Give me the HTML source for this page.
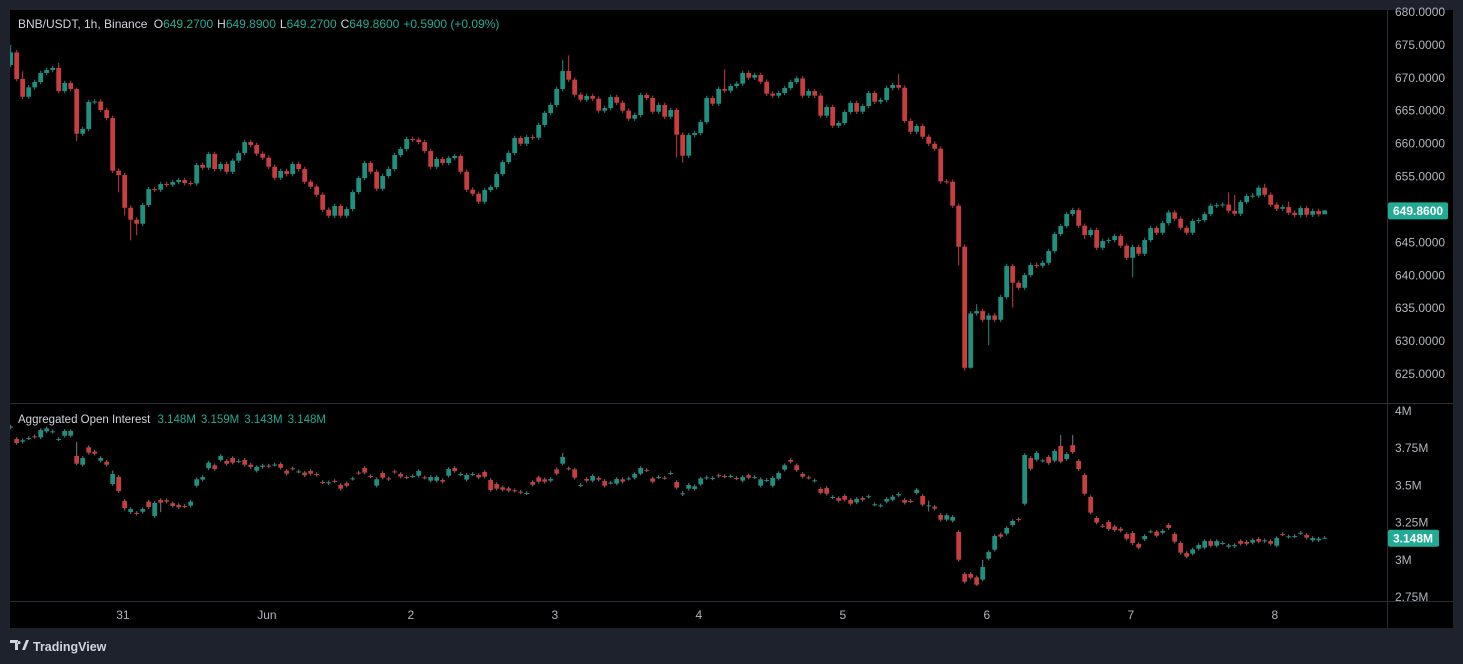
<!DOCTYPE html>
<html><head><meta charset="utf-8">
<style>
html,body{margin:0;padding:0;background:#1e222d;width:1463px;height:664px;overflow:hidden;font-family:"Liberation Sans",sans-serif}
svg{display:block}
</style></head>
<body>
<svg id="chart" width="1463" height="664" xmlns="http://www.w3.org/2000/svg">
<rect x="0" y="0" width="1463" height="664" fill="#1e222d"/>
<rect x="10" y="10" width="1443" height="618" fill="#000000"/>
<line x1="1387.5" y1="10" x2="1387.5" y2="628" stroke="#2a2e39" stroke-width="1"/>
<line x1="10" y1="403.5" x2="1453" y2="403.5" stroke="#2a2e39" stroke-width="1"/>
<line x1="10" y1="601.5" x2="1453" y2="601.5" stroke="#2a2e39" stroke-width="1"/>
<g id="priceMarks"></g>
<g id="oiMarks"></g>
<g id="axes"></g>
<text x="18" y="28" font-size="12" fill="#d1d4dc">BNB/USDT, 1h, Binance <tspan dx="3">O</tspan><tspan fill="#22ab94">649.2700</tspan><tspan dx="4">H</tspan><tspan fill="#22ab94">649.8900</tspan><tspan dx="4">L</tspan><tspan fill="#22ab94">649.2700</tspan><tspan dx="4">C</tspan><tspan fill="#22ab94">649.8600</tspan><tspan dx="4" fill="#22ab94">+0.5900 (+0.09%)</tspan></text>
<text x="18" y="423" font-size="11.5" fill="#d1d4dc">Aggregated Open Interest <tspan dx="4" fill="#22ab94">3.148M</tspan><tspan dx="5" fill="#22ab94">3.159M</tspan><tspan dx="5" fill="#22ab94">3.143M</tspan><tspan dx="5" fill="#22ab94">3.148M</tspan></text>
<g>
<path d="M10 640h8v10h-3v-7h-5z M19 641a1.6 1.6 0 1 0 0.01 0z M22 650l4-10h3l-4 10z" fill="#d1d4dc"/>
<text x="33" y="651" font-size="12.5" font-weight="bold" fill="#d1d4dc">TradingView</text>
</g>
</svg>
<script>
// ---------- price data (1h BNB/USDT) ----------
const priceFirstOpen = 671.95;
const priceCloses = [673.87,669.82,667.13,668.55,669.36,670.73,671.19,671.49,667.99,669.21,
668.30,661.51,662.22,666.32,666.40,665.11,663.89,655.89,655.23,650.26,
648.44,647.83,650.67,653.10,653.00,653.86,653.76,654.16,654.47,654.01,
653.95,656.75,656.34,658.42,656.14,656.90,655.73,657.41,658.57,660.24,
659.79,658.47,657.86,656.49,654.82,655.84,655.38,656.90,656.14,654.21,
653.46,652.24,649.96,649.05,650.52,649.05,650.06,652.64,654.77,657.05,
655.73,653.15,655.08,656.14,658.27,659.18,660.70,660.60,660.24,658.88,
656.49,657.66,657.05,657.81,658.12,655.73,653.00,652.39,651.18,652.95,
653.40,655.38,657.20,658.57,660.85,659.99,661.00,660.90,662.83,664.65,
665.87,668.30,671.03,669.72,667.44,666.68,667.23,666.83,665.01,665.41,
667.08,666.22,665.01,663.79,664.35,667.39,666.93,664.85,665.87,664.09,
665.11,661.36,658.17,661.31,661.61,663.28,666.93,666.07,668.30,668.05,
668.75,669.11,670.73,670.02,670.43,669.41,667.59,667.29,667.69,668.45,
669.36,669.92,667.29,667.99,667.29,664.25,665.56,662.73,663.13,664.80,
666.17,664.85,665.71,667.69,666.37,666.63,668.45,668.91,668.50,663.44,
661.81,662.68,661.05,659.99,659.23,654.27,654.21,650.57,644.34,625.95,
634.20,634.56,633.24,633.90,633.24,636.69,641.40,638.86,638.10,640.03,
641.55,641.45,641.90,643.68,646.26,647.48,649.30,649.91,647.53,646.11,
646.87,644.18,645.20,645.35,645.96,644.49,642.66,644.29,643.27,645.35,
647.17,646.46,647.93,649.55,648.59,647.22,646.46,648.24,648.39,649.30,
650.57,650.65,650.75,649.81,649.35,651.12,652.04,652.10,653.30,652.24,
650.72,650.11,650.36,649.50,649.15,650.21,649.20,649.76,649.27,649.86];
// notable wick extremes: [candleIndex, value]
const priceHighs = [[0,675.0],[2,671.0],[8,672.3],[11,668.5],[92,672.7],[93,673.4],[119,671.3],[148,670.6],[161,635.6],[203,652.6],[204,652.2],[209,653.9],[213,651.2],[219,649.89]];
const priceLows = [[11,660.4],[19,649.1],[20,645.3],[21,646.1],[18,652.6],[111,657.9],[112,657.1],[158,641.5],[159,625.5],[160,625.8],[163,629.4],[167,635.1],[179,645.5],[187,639.7],[219,649.27]];
const priceTicks = [680,675,670,665,660,655,650,645,640,635,630,625];

// ---------- aggregated open interest (M) ----------
const oiOpens = [3.890,3.812,3.794,3.816,3.830,3.823,3.863,3.861,3.810,3.834,
3.834,3.698,3.639,3.756,3.727,3.666,3.659,3.509,3.557,3.395,
3.321,3.315,3.323,3.391,3.294,3.402,3.400,3.380,3.368,3.362,
3.364,3.498,3.539,3.615,3.635,3.671,3.664,3.684,3.662,3.671,
3.639,3.599,3.624,3.633,3.639,3.644,3.599,3.615,3.592,3.586,
3.597,3.577,3.523,3.514,3.530,3.503,3.514,3.545,3.586,3.617,
3.563,3.498,3.583,3.547,3.594,3.577,3.556,3.561,3.565,3.554,
3.532,3.532,3.536,3.565,3.617,3.574,3.539,3.574,3.570,3.590,
3.536,3.509,3.487,3.480,3.467,3.458,3.447,3.523,3.554,3.541,
3.532,3.608,3.646,3.615,3.608,3.500,3.543,3.532,3.550,3.530,
3.518,3.512,3.541,3.545,3.552,3.579,3.603,3.547,3.554,3.552,
3.581,3.523,3.444,3.478,3.476,3.507,3.550,3.547,3.568,3.563,
3.561,3.550,3.532,3.568,3.554,3.498,3.534,3.498,3.545,3.606,
3.671,3.635,3.577,3.554,3.532,3.476,3.482,3.420,3.415,3.429,
3.402,3.386,3.415,3.424,3.371,3.364,3.391,3.404,3.433,3.402,
3.395,3.449,3.429,3.364,3.357,3.301,3.270,3.263,3.187,2.905,
2.905,2.882,2.867,3.008,3.068,3.171,3.176,3.234,3.274,3.377,
3.684,3.673,3.666,3.691,3.666,3.765,3.677,3.771,3.664,3.570,
3.422,3.281,3.229,3.254,3.223,3.209,3.173,3.180,3.106,3.138,
3.189,3.189,3.182,3.234,3.173,3.113,3.046,3.041,3.075,3.082,
3.126,3.095,3.111,3.088,3.091,3.126,3.120,3.115,3.140,3.124,
3.126,3.095,3.173,3.155,3.158,3.180,3.167,3.131,3.131,3.148];
const oiCloses = [3.895,3.785,3.803,3.818,3.827,3.872,3.883,3.863,3.812,3.866,
3.866,3.646,3.684,3.720,3.713,3.684,3.639,3.577,3.462,3.348,
3.341,3.310,3.341,3.355,3.382,3.384,3.391,3.362,3.353,3.359,
3.391,3.541,3.556,3.653,3.610,3.698,3.646,3.653,3.663,3.639,
3.624,3.624,3.633,3.628,3.640,3.619,3.579,3.612,3.594,3.568,
3.579,3.572,3.521,3.521,3.527,3.478,3.498,3.547,3.583,3.586,
3.561,3.541,3.552,3.543,3.590,3.559,3.554,3.563,3.597,3.552,
3.556,3.556,3.525,3.610,3.597,3.577,3.570,3.577,3.554,3.559,
3.469,3.478,3.471,3.465,3.465,3.453,3.449,3.505,3.525,3.525,
3.543,3.579,3.691,3.612,3.552,3.503,3.532,3.563,3.539,3.498,
3.519,3.543,3.525,3.547,3.577,3.617,3.601,3.525,3.556,3.550,
3.583,3.485,3.447,3.503,3.494,3.547,3.554,3.550,3.563,3.561,
3.563,3.547,3.556,3.552,3.556,3.541,3.536,3.550,3.583,3.635,
3.659,3.603,3.559,3.552,3.534,3.451,3.444,3.422,3.397,3.404,
3.377,3.409,3.404,3.427,3.373,3.366,3.409,3.424,3.442,3.384,
3.393,3.471,3.371,3.366,3.344,3.270,3.299,3.288,3.001,2.853,
2.880,2.833,2.952,3.052,3.160,3.155,3.214,3.261,3.270,3.704,
3.612,3.718,3.668,3.651,3.731,3.660,3.711,3.724,3.610,3.444,
3.317,3.250,3.227,3.207,3.200,3.196,3.142,3.113,3.082,3.160,
3.191,3.162,3.194,3.214,3.122,3.048,3.021,3.070,3.099,3.126,
3.095,3.126,3.113,3.097,3.099,3.108,3.108,3.133,3.122,3.131,
3.108,3.146,3.171,3.158,3.160,3.182,3.149,3.146,3.142,3.148];
const oiHighs = [[11,3.792],[17,3.600],[92,3.718],[112,3.462],[153,3.398],[162,2.999],[169,3.716],[175,3.839],[177,3.839],[219,3.159]];
const oiLows = [[11,3.635],[19,3.330],[25,3.320],[112,3.428],[153,3.325],[159,2.840],[161,2.825],[187,3.100],[219,3.143]];
const oiTicks = [4,3.75,3.5,3.25,3,2.75];
const oiTickLabels = ["4M","3.75M","3.5M","3.25M","3M","2.75M"];

// ---------- time axis ----------
const dayLabels = ["31","Jun","2","3","4","5","6","7","8"];
const dayStartCandle = [18.7,42.7,66.7,90.7,114.7,138.7,162.7,186.7,210.7];

// ---------- scales ----------
const UP = "#1f8f7f", DN = "#c53f3f", WICK_OI = "#787b86";
function xOf(i){ return 10.7 + i*6; }
function yPrice(p){ return 12 + (680 - p)*6.582; }
function yOI(v){ return 411 + (4 - v)*148.8; }

const NS = "http://www.w3.org/2000/svg";
function mk(tag, attrs, parent){
  const e = document.createElementNS(NS, tag);
  for (const k in attrs) e.setAttribute(k, attrs[k]);
  parent.appendChild(e);
  return e;
}
function lookup(list, i){ for (const p of list) if (p[0]===i) return p[1]; return null; }

const pg = document.getElementById('priceMarks');
const clipP = mk('clipPath',{id:'cp'},document.getElementById('chart'));
mk('rect',{x:10,y:10,width:1377,height:393},clipP);
pg.setAttribute('clip-path','url(#cp)');
for (let i=0;i<priceCloses.length;i++){
  const o = i===0 ? priceFirstOpen : priceCloses[i-1];
  const c = priceCloses[i];
  const col = c>=o ? UP : DN;
  let h = lookup(priceHighs,i); if (h===null) h = Math.max(o,c)+0.35;
  let l = lookup(priceLows,i); if (l===null) l = Math.min(o,c)-0.35;
  const x = xOf(i);
  const g = mk('g',{},pg);
  
  
  mk('line',{x1:x,x2:x,y1:yPrice(h),y2:yPrice(l),stroke:col,'stroke-width':1},g);
  const y1 = yPrice(Math.max(o,c)), y2 = yPrice(Math.min(o,c));
  mk('rect',{x:x-2.4,y:y1,width:4.8,height:Math.max(1,y2-y1),fill:col},g);
}

const og = document.getElementById('oiMarks');
const clipO = mk('clipPath',{id:'co'},document.getElementById('chart'));
mk('rect',{x:10,y:404,width:1377,height:197},clipO);
og.setAttribute('clip-path','url(#co)');
for (let i=0;i<oiCloses.length;i++){
  const o = oiOpens[i], c = oiCloses[i];
  const col = c>=o ? UP : DN;
  let h = lookup(oiHighs,i); if (h===null) h = Math.max(o,c)+0.012;
  let l = lookup(oiLows,i); if (l===null) l = Math.min(o,c)-0.012;
  const x = xOf(i);
  const g = mk('g',{},og);
  
  
  mk('line',{x1:x,x2:x,y1:yOI(h),y2:yOI(l),stroke:WICK_OI,'stroke-width':1},g);
  const y1 = yOI(Math.max(o,c)), y2 = yOI(Math.min(o,c));
  mk('rect',{x:x-2.4,y:y1,width:4.8,height:Math.max(1,y2-y1),fill:col},g);
}

const ax = document.getElementById('axes');
for (const p of priceTicks){
  const t = mk('text',{x:1395,y:yPrice(p)+4,'font-size':12,fill:'#b2b5be'},ax);
  
  
  t.textContent = p.toFixed(4);
}
for (let k=0;k<oiTicks.length;k++){
  const t = mk('text',{x:1395,y:yOI(oiTicks[k])+4,'font-size':12,fill:'#b2b5be'},ax);
  
  
  t.textContent = oiTickLabels[k];
}
for (let k=0;k<dayLabels.length;k++){
  const t = mk('text',{x:xOf(dayStartCandle[k]),y:619,'font-size':12,fill:'#b2b5be','text-anchor':'middle'},ax);
  
  
  t.textContent = dayLabels[k];
}
// last value badges
const lastP = priceCloses[priceCloses.length-1];
const bp = mk('g',{},ax);


mk('rect',{x:1388,y:yPrice(lastP)-8,width:60,height:17,rx:2,fill:'#22ab94'},bp);
const tp = mk('text',{x:1393,y:yPrice(lastP)+4.5,'font-size':12,'font-weight':'bold',fill:'#ffffff'},bp);
tp.textContent = lastP.toFixed(4);
const lastO = oiCloses[oiCloses.length-1];
const bo = mk('g',{},ax);


mk('rect',{x:1388,y:yOI(lastO)-8,width:51,height:17,rx:2,fill:'#22ab94'},bo);
const to = mk('text',{x:1393,y:yOI(lastO)+4.5,'font-size':12,'font-weight':'bold',fill:'#ffffff'},bo);
to.textContent = lastO.toFixed(3)+"M";
</script>
</body></html>
